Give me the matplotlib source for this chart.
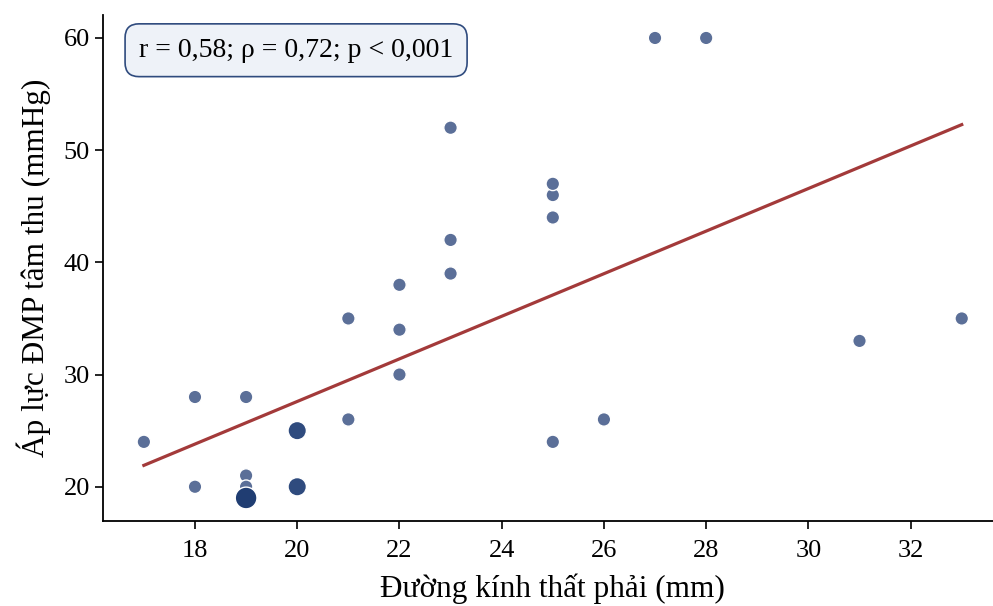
import numpy as np
import matplotlib.pyplot as plt

plt.rcParams['font.family'] = ['Liberation Serif', 'DejaVu Serif']

# du lieu: duong kinh that phai (mm), ap luc DMP tam thu (mmHg), so ca trung nhau
rv_diam = [17, 18, 18, 19, 19, 19, 19, 20, 20, 21, 21, 22, 22, 22, 23, 23, 23,
           25, 25, 25, 25, 26, 27, 28, 31, 33]
pasp = [24, 28, 20, 28, 21, 20, 19, 25, 20, 35, 26, 38, 34, 30, 52, 42, 39,
        47, 46, 44, 24, 26, 60, 60, 33, 35]
counts = [1, 1, 1, 1, 1, 1, 3, 2, 2, 1, 1, 1, 1, 1, 1, 1, 1,
          1, 1, 1, 1, 1, 1, 1, 1, 1]
stat_text = 'r = 0,58; ρ = 0,72; p < 0,001'

x = np.array(rv_diam, dtype=float)
y = np.array(pasp, dtype=float)
n = np.array(counts)

fig = plt.figure(figsize=(9.93, 6.06), dpi=100)
ax = fig.add_axes([0.1037, 0.1403, 0.906, 0.835])

size_map = {1: 95, 2: 175, 3: 245}
color_map = {1: '#5b6f98', 2: '#2f4b7e', 3: '#203d72'}
order = np.argsort(n)
ax.scatter(x[order], y[order], s=[size_map[c] for c in n[order]],
           c=[color_map[c] for c in n[order]], edgecolors='white',
           linewidths=1.0, zorder=3)

# duong hoi quy tuyen tinh
xs = np.repeat(x, n)
ys = np.repeat(y, n)
slope, intercept = np.polyfit(xs, ys, 1)
xl = np.array([xs.min(), xs.max()])
ax.plot(xl, slope * xl + intercept, color='#a33a3a', lw=2.3, zorder=2)

ax.set_xlim(16.2, 33.8)
ax.set_ylim(16.95, 62.05)
ax.set_xticks(range(18, 33, 2))
ax.set_yticks(range(20, 61, 10))
ax.tick_params(labelsize=19, length=6, width=1.2)
ax.tick_params(axis='x', pad=8)
for s in ['top', 'right']:
    ax.spines[s].set_visible(False)
for s in ['left', 'bottom']:
    ax.spines[s].set_linewidth(1.3)

ax.set_xlabel('Đường kính thất phải (mm)', fontsize=22.5, labelpad=8)
ax.set_ylabel('Áp lực ĐMP tâm thu (mmHg)', fontsize=22.5, labelpad=9)

ax.text(0.04, 0.955, stat_text, transform=ax.transAxes, fontsize=20,
        va='top', ha='left',
        bbox=dict(boxstyle='round,pad=0.5', facecolor='#eef2f8',
                  edgecolor='#2f4b7e', linewidth=1.2))

fig.savefig('out.png', dpi=100)
